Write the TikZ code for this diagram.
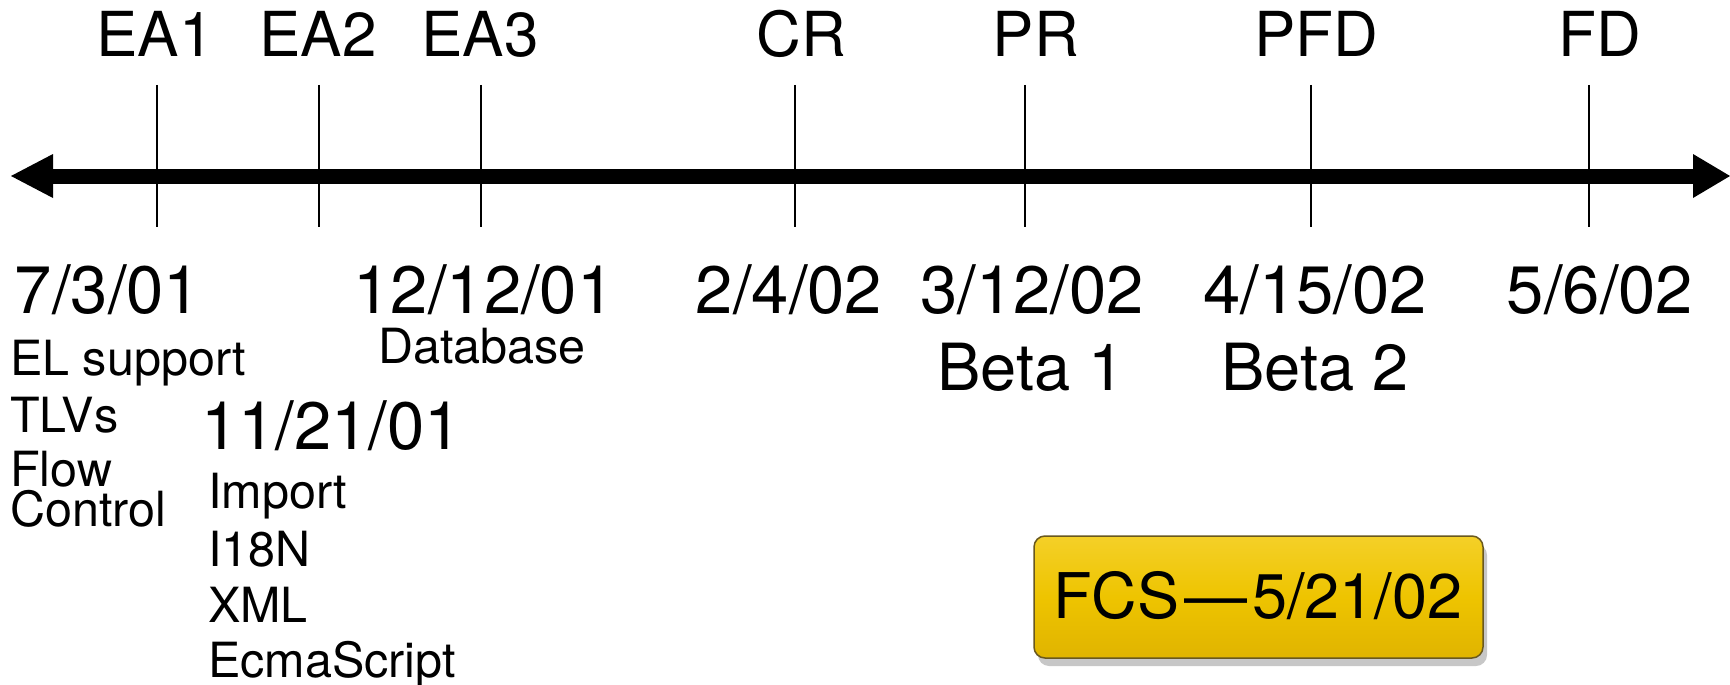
\documentclass[tikz,border=0pt]{standalone}
\usepackage{fontspec}
\setmainfont{TeX Gyre Heros}
\usetikzlibrary{shadows}
\begin{document}
\begin{tikzpicture}[x=1pt,y=-1pt,
  toplbl/.style={inner sep=0pt,anchor=base,font=\fontsize{62}{62}\selectfont},
  datelbl/.style={inner sep=0pt,anchor=base,font=\fontsize{67}{67}\selectfont},
  betalbl/.style={inner sep=0pt,anchor=base,font=\fontsize{65}{65}\selectfont},
  smalllbl/.style={inner sep=0pt,anchor=base west,font=\fontsize{48.5}{40}\selectfont},
  tickline/.style={line width=2pt,black},
  axisline/.style={line width=15pt,black},
  arrowhead/.style={fill=black,draw=none},
  fcsbox/.style={rounded corners=11pt,draw={rgb,255:red,105;green,88;blue,30},line width=1.5pt,
    top color={rgb,255:red,244;green,208;blue,40},
    bottom color={rgb,255:red,224;green,180;blue,0},
    middle color={rgb,255:red,238;green,196;blue,0},
    drop shadow={shadow xshift=4pt,shadow yshift=-8pt,opacity=0.22,fill=black}}
]
\useasboundingbox (0,0) rectangle (1730,685);
\fill[white] (0,0) rectangle (1730,685);

% axis
\coordinate (axL) at (53,176);
\coordinate (axR) at (1693,176);
\draw[axisline] (axL) -- (axR);
\fill[arrowhead] (11,176) -- (53,154) -- (53,198) -- cycle;
\fill[arrowhead] (1730,176) -- (1693,154) -- (1693,198) -- cycle;

% ticks
\foreach \nm/\x in {ea1/157,ea2/319,ea3/481,cr/795,pr/1025,pfd/1311,fd/1589}{
  \coordinate (\nm top) at (\x,85);
  \coordinate (\nm bot) at (\x,227);
  \draw[tickline] (\nm top) -- (\nm bot);
}

% top labels
\node[toplbl] (lea1) at (155,57) {EA1};
\node[toplbl] (lea2) at (318,57) {EA2};
\node[toplbl] (lea3) at (480,57) {EA3};
\node[toplbl] (lcr)  at (801,57) {CR};
\node[toplbl] (lpr)  at (1036,57) {PR};
\node[toplbl] (lpfd) at (1316,57) {PFD};
\node[toplbl] (lfd)  at (1600,57) {FD};

% dates
\node[datelbl] (d1) at (108,313) {7/3/01};
\node[datelbl] (d3) at (484,313) {12/12/01};
\node[datelbl] (d4) at (789,313) {2/4/02};
\node[datelbl] (d5) at (1032,313) {3/12/02};
\node[datelbl] (d6) at (1315,313) {4/15/02};
\node[datelbl] (d7) at (1600,313) {5/6/02};

% betas
\node[betalbl] (b1) at (1031,390) {Beta 1};
\node[betalbl] (b2) at (1315,390) {Beta 2};

% database
\node[inner sep=0pt,anchor=base,font=\fontsize{48.5}{48.5}\selectfont] (db) at (482,363) {Database};

% left column
\node[smalllbl] (el)   at (10,375) {EL support};
\node[smalllbl] (tlv)  at (10,432) {TLVs};
\node[smalllbl,anchor=south west,align=left] (flow) at (10,528) {Flow\\Control};

% middle column
\node[inner sep=0pt,anchor=base west,font=\fontsize{67}{67}\selectfont] (d2) at (201,449) {11/21/01};
\node[smalllbl] (imp)  at (208,508) {Import};
\node[smalllbl] (i18n) at (208,566) {I18N};
\node[smalllbl] (xml)  at (208,622) {XML};
\node[smalllbl] (ecma) at (208,677) {EcmaScript};

% FCS box
\node[fcsbox,minimum width=449pt,minimum height=122pt,inner sep=0pt] (fcs) at (1258.5,597) {};
\node[inner sep=0pt,anchor=base,font=\fontsize{63}{63}\selectfont] (fcstxt) at (1258,618) {FCS\kern5pt—\kern5pt5/21/02};
\end{tikzpicture}
\end{document}
